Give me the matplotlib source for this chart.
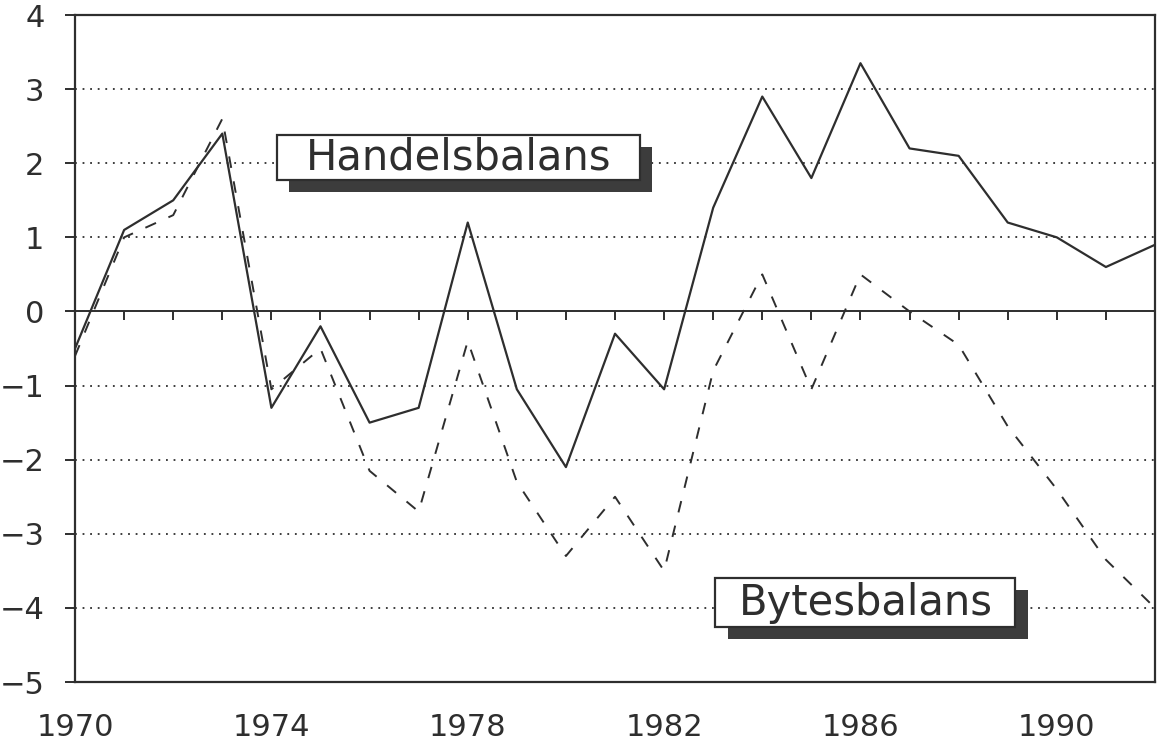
import matplotlib
matplotlib.use("Agg")
import matplotlib.pyplot as plt
from matplotlib.patches import Rectangle

# Data (per cent, 1970-1992)
years = list(range(1970, 1993))
handelsbalans = [-0.5, 1.1, 1.5, 2.4, -1.3, -0.2, -1.5, -1.3, 1.2, -1.05, -2.1, -0.3,
                 -1.05, 1.4, 2.9, 1.8, 3.35, 2.2, 2.1, 1.2, 1.0, 0.6, 0.9]
bytesbalans = [-0.6, 1.0, 1.3, 2.6, -1.05, -0.5, -2.15, -2.7, -0.4, -2.3, -3.3, -2.5,
               -3.5, -0.8, 0.5, -1.05, 0.5, 0.0, -0.45, -1.55, -2.4, -3.35, -4.0]
xtick_years = [1970, 1974, 1978, 1982, 1986, 1990]
yticks = [-5, -4, -3, -2, -1, 0, 1, 2, 3, 4]

ink = "#2e2e2e"

fig = plt.figure(figsize=(11.58, 7.44), dpi=100)
ax = fig.add_axes([0.0648, 0.0833, 0.9326, 0.8965])

# dotted horizontal gridlines
for y in yticks:
    if y in (-5, 0, 4):
        continue
    ax.axhline(y, color=ink, lw=1.3, linestyle=(0, (1, 3.2)), zorder=1)

# solid zero line with small year ticks hanging below
ax.axhline(0, color=ink, lw=1.4, zorder=2)
ax.vlines(years, -0.12, 0, color=ink, lw=1.4, zorder=2)

ax.plot(years, handelsbalans, color=ink, lw=1.6, zorder=3)
ax.plot(years, bytesbalans, color=ink, lw=1.4, linestyle=(0, (6, 7)), zorder=3)

ax.set_xlim(1970, 1992)
ax.set_ylim(-5, 4)
ax.set_xticks(xtick_years)
ax.set_yticks(yticks)
ax.set_yticklabels([("\u2212" + str(-v)) if v < 0 else str(v) for v in yticks])
ax.tick_params(axis="x", length=0, pad=22, labelsize=22, colors=ink)
ax.tick_params(axis="y", length=7, width=1.4, pad=15, labelsize=22, colors=ink)
for s in ax.spines.values():
    s.set_color(ink)
    s.set_linewidth(1.6)


def label_box(x0, y0, w, h, text):
    # shadow first, then white box with border, then text
    ax.add_patch(Rectangle((x0 + 0.0115, y0 - 0.018), w, h, transform=ax.transAxes,
                           facecolor="#3c3c3c", edgecolor="none", zorder=5))
    ax.add_patch(Rectangle((x0, y0), w, h, transform=ax.transAxes,
                           facecolor="white", edgecolor=ink, lw=1.6, zorder=6))
    ax.text(x0 + w / 2, y0 + h / 2, text, transform=ax.transAxes, ha="center",
            va="center", fontsize=30, color=ink, zorder=7)


label_box(0.187, 0.753, 0.336, 0.0675, "Handelsbalans")
label_box(0.593, 0.082, 0.2778, 0.0735, "Bytesbalans")

fig.savefig("out.png", dpi=100)
